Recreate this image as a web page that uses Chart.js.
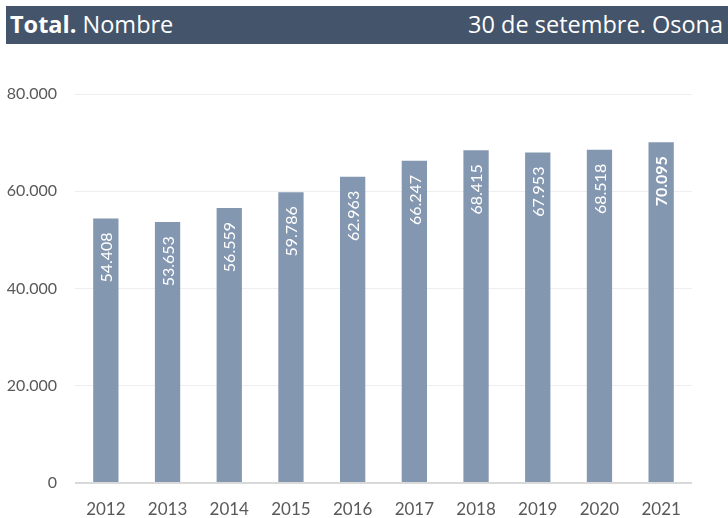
<!DOCTYPE html>
<html>
<head>
<meta charset="utf-8">
<script src="https://cdn.jsdelivr.net/npm/chart.js@4/dist/chart.umd.min.js"></script>
<style>
  html, body { margin: 0; padding: 0; background: #ffffff; }
  #wrap { position: relative; width: 728px; height: 518px; overflow: hidden; }
  #header { position: absolute; left: 6px; top: 6px; width: 722px; height: 38px; background: #44546a; color: #ffffff;
            font-family: "Open Sans", Lato, sans-serif; font-size: 23.5px; line-height: 38px; z-index: 2; }
  #header .l { position: absolute; left: 4px; top: -1px; }
  #header .r { position: absolute; right: 5px; top: -1px; }
  #c { position: absolute; left: 0; top: 0; }
</style>
</head>
<body>
<div id="wrap">
  <div id="header"><span class="l"><b>Total.</b> Nombre</span><span class="r">30 de setembre. Osona</span></div>
  <canvas id="c" width="728" height="518"></canvas>
</div>
<script>
const years = ["2012","2013","2014","2015","2016","2017","2018","2019","2020","2021"];
const values = [54408, 53653, 56559, 59786, 62963, 66247, 68415, 67953, 68518, 70095];
const boldIndex = [9];

function fmt(v) {
  return String(v).replace(/\B(?=(\d{3})+(?!\d))/g, ".");
}

const barLabels = {
  id: 'barLabels',
  afterDatasetsDraw(chart) {
    const ctx = chart.ctx;
    const meta = chart.getDatasetMeta(0);
    meta.data.forEach((bar, i) => {
      ctx.save();
      ctx.translate(bar.x, bar.y + 14);
      ctx.rotate(-Math.PI / 2);
      ctx.fillStyle = '#ffffff';
      ctx.font = (boldIndex.includes(i) ? 'bold ' : '') + '16px Lato, "Open Sans", sans-serif';
      ctx.textAlign = 'right';
      ctx.textBaseline = 'middle';
      ctx.fillText(fmt(values[i]), 0, 1);
      ctx.restore();
    });
  }
};

new Chart(document.getElementById('c'), {
  type: 'bar',
  data: {
    labels: years,
    datasets: [{
      data: values,
      backgroundColor: '#8497b0',
      categoryPercentage: 1,
      barPercentage: 0.41
    }]
  },
  options: {
    responsive: false,
    animation: false,
    devicePixelRatio: 1,
    layout: { padding: { top: 94, right: 36, bottom: 0, left: 0 } },
    plugins: { legend: { display: false }, tooltip: { enabled: false } },
    scales: {
      x: {
        grid: { display: false, drawTicks: false },
        border: { display: false },
        ticks: { color: '#595959', font: { family: 'Lato', size: 17 }, padding: 16, maxRotation: 0 },
        afterFit(s) { s.height = 35; }
      },
      y: {
        min: 0, max: 80000,
        ticks: { stepSize: 20000, color: '#595959', font: { family: 'Lato', size: 16 }, padding: 18,
                 callback: v => fmt(v) },
        grid: { drawTicks: false,
                color: c => c.tick && c.tick.value === 0 ? '#d9d9d9' : '#eeeeee',
                lineWidth: c => c.tick && c.tick.value === 0 ? 2 : 1 },
        border: { display: false },
        afterFit(s) { s.width = 75; }
      }
    }
  },
  plugins: [barLabels]
});
</script>
</body>
</html>
